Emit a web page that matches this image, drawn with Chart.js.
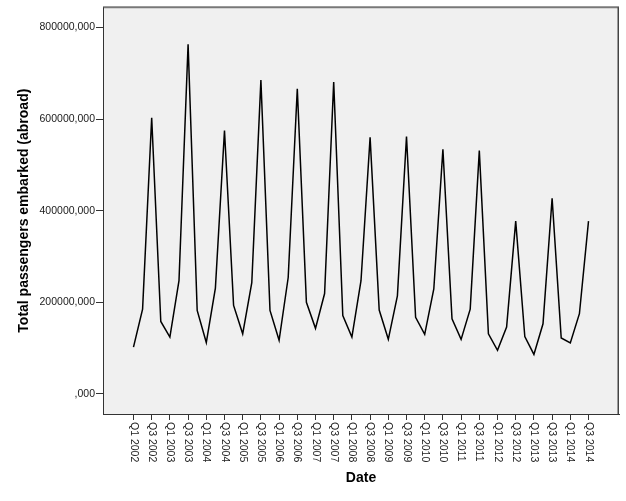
<!DOCTYPE html>
<html>
<head>
<meta charset="utf-8">
<script src="https://cdn.jsdelivr.net/npm/chart.js@4"></script>
<style>
  body { margin: 0; background: #fff; }
  #wrap { width: 626px; height: 501px; }
</style>
</head>
<body>
<div id="wrap"><canvas id="line_chart" width="626" height="501"></canvas></div>
<script>
// quarterly totals, Q1 2002 .. Q3 2014
const quarters = [
    "Q1 2002", "Q2 2002", "Q3 2002", "Q4 2002",
    "Q1 2003", "Q2 2003", "Q3 2003", "Q4 2003",
    "Q1 2004", "Q2 2004", "Q3 2004", "Q4 2004",
    "Q1 2005", "Q2 2005", "Q3 2005", "Q4 2005",
    "Q1 2006", "Q2 2006", "Q3 2006", "Q4 2006",
    "Q1 2007", "Q2 2007", "Q3 2007", "Q4 2007",
    "Q1 2008", "Q2 2008", "Q3 2008", "Q4 2008",
    "Q1 2009", "Q2 2009", "Q3 2009", "Q4 2009",
    "Q1 2010", "Q2 2010", "Q3 2010", "Q4 2010",
    "Q1 2011", "Q2 2011", "Q3 2011", "Q4 2011",
    "Q1 2012", "Q2 2012", "Q3 2012", "Q4 2012",
    "Q1 2013", "Q2 2013", "Q3 2013", "Q4 2013",
    "Q1 2014", "Q2 2014", "Q3 2014"
];
const passengers = [
    102000, 185000, 603000, 158000,
    124000, 247000, 763000, 182000,
    112000, 231000, 575000, 193000,
    131000, 243000, 685000, 182000,
    117000, 254000, 666000, 200000,
    143000, 219000, 681000, 171000,
    124000, 247000, 560000, 183000,
    119000, 214000, 562000, 167000,
    130000, 229000, 534000, 164000,
    119000, 185000, 531000, 131000,
    95000, 146000, 377000, 125000,
    86000, 153000, 427000, 122000,
    111000, 175000, 377000
];
// every other quarter is labelled on the axis
const tickLabels = quarters.filter((q, i) => i % 2 === 0);
const yTicks = [0, 200000, 400000, 600000, 800000];

const tickFont = { family: "'Liberation Sans', Arial, sans-serif", size: 10.5 };
const titleFont = { family: "'Liberation Sans', Arial, sans-serif", size: 14, weight: "bold" };

/** grey plot background and frame, like SPSS output */
const plotFrame = {
    id: "plotFrame",
    beforeDraw(chart) {
        const a = chart.chartArea, ctx = chart.ctx;
        ctx.save();
        ctx.fillStyle = "#f0f0f0";
        ctx.fillRect(a.left, a.top, a.right - a.left, a.bottom - a.top);
        ctx.restore();
    },
    afterDraw(chart) {
        const a = chart.chartArea, ctx = chart.ctx;
        ctx.save();
        // top edge, lighter and a bit thicker
        ctx.strokeStyle = "#787878";
        ctx.lineWidth = 2;
        ctx.beginPath();
        ctx.moveTo(a.left, a.top);
        ctx.lineTo(a.right, a.top);
        ctx.stroke();
        // right edge
        ctx.strokeStyle = "#444";
        ctx.lineWidth = 1.5;
        ctx.beginPath();
        ctx.moveTo(a.right - 0.75, a.top);
        ctx.lineTo(a.right - 0.75, a.bottom + 1);
        ctx.stroke();
        // axes
        ctx.strokeStyle = "#333";
        ctx.lineWidth = 1;
        ctx.beginPath();
        ctx.moveTo(a.left + 0.5, a.top);
        ctx.lineTo(a.left + 0.5, a.bottom + 0.5);
        ctx.lineTo(a.right, a.bottom + 0.5);
        ctx.stroke();
        ctx.restore();
    }
};

/** x labels read top to bottom, which chart.js rotation can't do */
const verticalLabels = {
    id: "verticalLabels",
    afterDraw(chart) {
        const scale = chart.scales.x, ctx = chart.ctx;
        ctx.save();
        ctx.font = tickFont.size + "px " + tickFont.family;
        ctx.fillStyle = "#1a1a1a";
        ctx.textAlign = "left";
        ctx.textBaseline = "middle";
        scale.ticks.forEach((t, i) => {
            const x = scale.getPixelForValue(t.value);
            ctx.save();
            ctx.translate(x, scale.top + 8);
            ctx.rotate(Math.PI / 2);
            ctx.fillText(tickLabels[i], 0, 0);
            ctx.restore();
        });
        ctx.restore();
    }
};

const chart = new Chart(document.getElementById("line_chart"), {
    type: "line",
    data: {
        datasets: [{
            data: passengers.map((v, i) => ({ x: i, y: v })),
            borderColor: "#000",
            borderWidth: 1.5,
            pointRadius: 0,
            tension: 0,
            fill: false
        }]
    },
    options: {
        responsive: false,
        animation: false,
        devicePixelRatio: 1,
        layout: { padding: { top: 5, right: 7, left: 0, bottom: 0 } },
        plugins: {
            legend: { display: false },
            tooltip: { enabled: false }
        },
        scales: {
            x: {
                type: "linear",
                min: -3.35,
                max: quarters.length - 1 + 3.35,
                afterBuildTicks: scale => {
                    scale.ticks = tickLabels.map((l, i) => ({ value: i * 2 }));
                },
                afterFit: scale => { scale.height = 87; },
                ticks: { display: false },
                grid: {
                    drawOnChartArea: false,
                    drawTicks: true,
                    tickLength: 6,
                    color: "#333"
                },
                border: { display: true, color: "#333" },
                title: {
                    display: true,
                    text: "Date",
                    color: "#000",
                    font: titleFont,
                    padding: { top: 0, bottom: 14 }
                }
            },
            y: {
                min: -44000,
                max: 844000,
                afterBuildTicks: scale => {
                    scale.ticks = yTicks.map(v => ({ value: v }));
                },
                afterFit: scale => { scale.width = 103; },
                ticks: {
                    font: tickFont,
                    color: "#1a1a1a",
                    padding: 1,
                    callback: v => (v === 0 ? "" : v) + ",000"
                },
                grid: {
                    drawOnChartArea: false,
                    drawTicks: true,
                    tickLength: 7,
                    color: "#333"
                },
                border: { display: true, color: "#333" },
                title: {
                    display: true,
                    text: "Total passengers embarked (abroad)",
                    color: "#000",
                    font: titleFont,
                    padding: { top: 16, bottom: 0 }
                }
            }
        }
    },
    plugins: [plotFrame, verticalLabels]
});
</script>
</body>
</html>
